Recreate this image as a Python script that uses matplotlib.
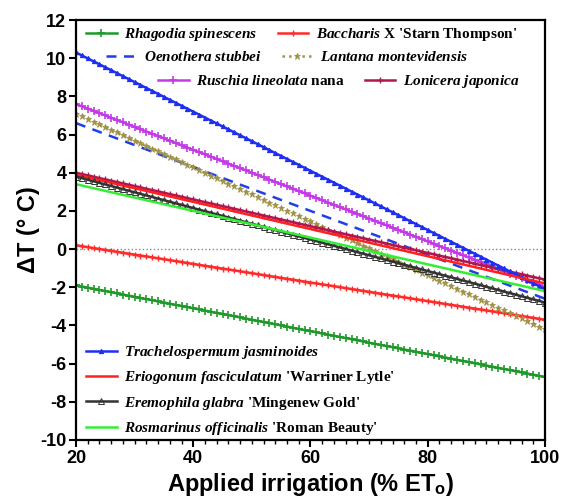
import matplotlib
matplotlib.use("Agg")
import matplotlib.pyplot as plt
import numpy as np

plt.rcParams["font.family"] = ["Liberation Sans", "DejaVu Sans"]
plt.rcParams["font.weight"] = "bold"
plt.rcParams["axes.unicode_minus"] = False
plt.rcParams["mathtext.fontset"] = "custom"
plt.rcParams["mathtext.it"] = "Liberation Serif:italic:bold"
plt.rcParams["mathtext.rm"] = "Liberation Serif:bold"
plt.rcParams["mathtext.sf"] = "Liberation Serif:italic"
plt.rcParams["mathtext.bf"] = "Liberation Sans:bold"

# fitted lines: delta T at 20 % and 100 % ETo
irrigation_ends = [20, 100]
species = [
    r"$\mathit{Rhagodia\ spinescens}$",
    r"$\mathit{Baccharis}$ X 'Starn Thompson'",
    r"$\mathit{Oenothera\ stubbei}$",
    r"$\mathit{Lantana\ montevidensis}$",
    r"$\mathit{Ruschia\ lineolata}$ nana",
    r"$\mathit{Lonicera\ japonica}$",
    r"$\mathit{Trachelospermum\ jasminoides}$",
    r"$\mathit{Eriogonum\ fasciculatum}$ 'Warriner Lytle'",
    r"$\mathsf{Eremophila\ glabra}$ 'Mingenew Gold'",
    r"$\mathit{Rosmarinus\ officinalis}$ 'Roman Beauty'",
]
dt_start = [-1.9, 0.2, 6.6, 7.1, 7.6, 4.0, 10.3, 3.9, 3.8, 3.4]
dt_end = [-6.7, -3.7, -2.6, -4.2, -2.0, -1.6, -2.1, -1.8, -2.8, -2.2]

styles = [
    dict(color="#1f9a2a", ls="-", marker="+", ms=6, mew=1.2),
    dict(color="#ff2a2a", ls="-", marker="+", ms=4, mew=1.0),
    dict(color="#1f3fe8", ls=(0, (4, 3)), marker=None),
    dict(color="#a09348", ls=":", marker="*", ms=5, mew=0.6),
    dict(color="#c43ae6", ls="-", marker="+", ms=6, mew=1.2),
    dict(color="#b0174e", ls="-", marker="+", ms=4, mew=1.0),
    dict(color="#1f2ff0", ls="-", marker="^", ms=3, mew=0.8),
    dict(color="#ff2020", ls="-", marker=None),
    dict(color="#333333", ls="-", marker="^", ms=5, mew=0.7, mfc="none"),
    dict(color="#33ee33", ls="-", marker=None),
]

fig = plt.figure(figsize=(5.65, 5.01), dpi=100)
ax = fig.add_axes([0.1345, 0.1218, 0.8301, 0.8382])

x = np.arange(20, 101)
handles = []
for name, y0, y1, st in zip(species, dt_start, dt_end, styles):
    y = np.interp(x, irrigation_ends, [y0, y1])
    h, = ax.plot(x, y, lw=1.8, label=name, **st)
    handles.append(h)

ax.axhline(0, color="#888888", ls=":", lw=1.0, zorder=0)

ax.set_xlim(20, 100)
ax.set_ylim(-10, 12)
ax.set_xticks(range(20, 101, 20))
ax.set_xticks(range(20, 101, 2), minor=True)
ax.set_yticks(range(-10, 13, 2))
ax.tick_params(axis="both", which="major", labelsize=13, width=1.5, length=5, pad=2)
ax.tick_params(axis="x", which="minor", width=1.0, length=3)
for s in ax.spines.values():
    s.set_linewidth(1.6)
for lab in ax.get_xticklabels() + ax.get_yticklabels():
    lab.set_fontweight("bold")

ax.set_ylabel("ΔT (° C)", fontsize=17, fontweight="bold", labelpad=0)
ax.set_xlabel(r"Applied irrigation (% ET$_\mathbf{o}$)", fontsize=17,
              fontweight="bold", labelpad=3)


def px(xp, yp):
    return ((xp - 76) / 469, (440 - yp) / 420)


leg_kw = dict(frameon=False, handlelength=2.0, handletextpad=0.5,
              borderpad=0, borderaxespad=0, columnspacing=1.3,
              prop={"family": "Liberation Serif", "weight": "bold", "size": 11})
rows = [((0, 1), (86, 26)), ((2, 3), (106, 50)), ((4, 5), (158, 73))]
for idx, anchor in rows:
    lg = ax.legend([handles[i] for i in idx], [species[i] for i in idx],
                   ncol=2, loc="upper left", bbox_to_anchor=px(*anchor), **leg_kw)
    ax.add_artist(lg)

bot = [6, 7, 8, 9]
leg2 = ax.legend([handles[i] for i in bot], [species[i] for i in bot],
                 loc="upper left", bbox_to_anchor=px(86, 344),
                 labelspacing=0.55, **leg_kw)

fig.savefig("out.png", dpi=100)
